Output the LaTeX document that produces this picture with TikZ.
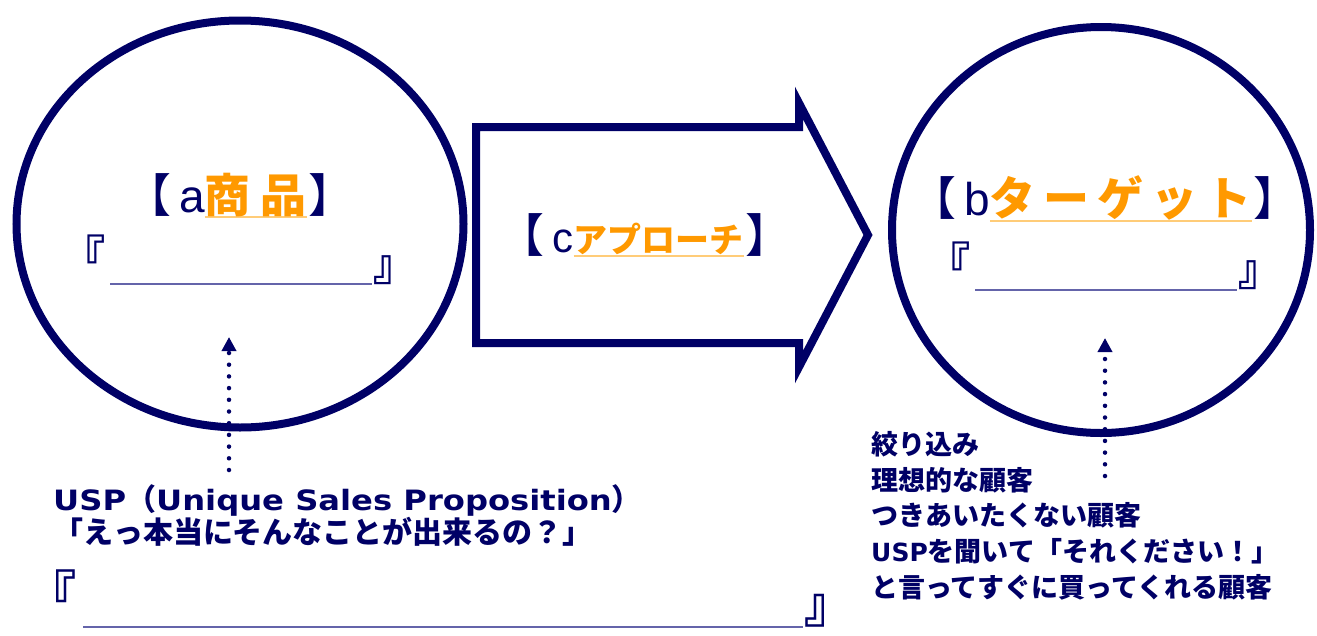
\documentclass[tikz,border=0pt]{standalone}
\usepackage{fontspec}
\usetikzlibrary{arrows.meta,shapes.geometric}
\setmainfont{Liberation Sans}
\newfontfamily\jpfont{Noto Sans CJK JP}
\newfontfamily\latinbold{DejaVu Sans}
\newfontfamily\latinwide{DejaVu Sans}[FakeStretch=1.15]

\definecolor{navyline}{RGB}{0,0,102}
\definecolor{keyorange}{RGB}{255,153,0}
\definecolor{ulorange}{RGB}{255,204,120}
\definecolor{blankblue}{RGB}{100,100,170}

% orange key word, underlined
\newcommand{\keyword}[2][6pt]{%
  \setbox0\hbox{\jpfont\bfseries\textcolor{keyorange}{#2}}%
  \rlap{\textcolor{ulorange}{\rule[-#1]{\wd0}{2pt}}}\box0}
\newcommand{\lopen}{{\jpfont【}\kern8pt}
\newcommand{\lclose}{{\jpfont】}}

\tikzset{
  ring/.style={draw=navyline, line width=8pt},
  heading/.style={text=navyline, inner sep=0pt, font=\fontsize{46}{46}\selectfont},
  quote/.style={text=navyline, inner sep=0pt, font=\jpfont\bfseries\fontsize{44}{44}\selectfont},
  blank/.style={draw=blankblue, line width=2pt},
  hint/.style={navyline, line width=4.5pt, line cap=round, dash pattern=on 0pt off 11.7pt,
    -{Triangle[width=14pt,length=14pt]}},
  note/.style={text=navyline, inner sep=0pt, align=left},
}

\begin{document}
\begin{tikzpicture}[x=1pt, y=-1pt]
    \useasboundingbox (0,0) rectangle (1317,635);

    % Circles
    \node[ring, ellipse, minimum width=447pt, minimum height=407pt] (product) at (240,224) {};
    \node[ring, ellipse, minimum width=418pt, minimum height=406pt] (target) at (1101,230) {};

    % Big arrow
    \draw[ring, line join=miter] (476,127) -- (799,127) -- (799,103) -- (868,235)
        -- (799,367) -- (799,343) -- (476,343) -- cycle;

    % Headings
    \node[heading, anchor=base] (prodhead) at (240,212)
        {\lopen a\keyword{商\kern10pt 品}\kern2pt\lclose};
    \node[heading, anchor=base] (approach) at (645,252)
        {\lopen{\fontsize{42}{42}\selectfont c}\keyword[5pt]{\fontsize{34}{34}\selectfont アプローチ}\kern2pt\lclose};
    \node[heading, anchor=base] (targethead) at (1105,215)
        {\lopen b\keyword[7pt]{タ\kern8pt ー\kern8pt ゲ\kern8pt ッ\kern8pt ト}\kern2pt\lclose};

    % Blanks
    \node[quote, anchor=north east] (prodL) at (106,235) {『};
    \node[quote, anchor=south west] (prodR) at (373,285) {』};
    \draw[blank] (110,284) -- (372,284);

    \node[quote, anchor=north east] (targL) at (971,242) {『};
    \node[quote, anchor=south west] (targR) at (1238,290) {』};
    \draw[blank] (975,290) -- (1237,290);

    \node[quote, anchor=north east, font=\jpfont\bfseries\fontsize{50}{50}\selectfont] (uspL) at (77,570) {『};
    \node[quote, anchor=south west, font=\jpfont\bfseries\fontsize{50}{50}\selectfont] (uspR) at (804,627) {』};
    \draw[blank] (83,627) -- (803,627);

    % Notes
    \node[note, anchor=north west, font=\jpfont\bfseries\fontsize{30}{32}\selectfont] (usp) at (53,484)
        {{\latinwide\fontsize{28}{32}\selectfont USP}（{\latinwide\fontsize{28}{32}\selectfont Unique Sales Proposition}）\\%
         「えっ本当にそんなことが出来るの？」};
    \node[note, anchor=north west, font=\jpfont\bfseries\fontsize{27}{35.7}\selectfont] (buyers) at (871,431)
        {絞り込み\\理想的な顧客\\つきあいたくない顧客\\{\latinbold\fontsize{25}{35.7}\selectfont USP}を聞いて「それください！」\\と言ってすぐに買ってくれる顧客};

    % Dotted pointers
    \coordinate (uspTop) at (229,470);
    \coordinate (prodGoal) at (229,337);
    \coordinate (buyersTop) at (1105,476);
    \coordinate (targGoal) at (1105,338);
    \draw[hint] (uspTop) -- (prodGoal);
    \draw[hint] (buyersTop) -- (targGoal);
\end{tikzpicture}
\end{document}
